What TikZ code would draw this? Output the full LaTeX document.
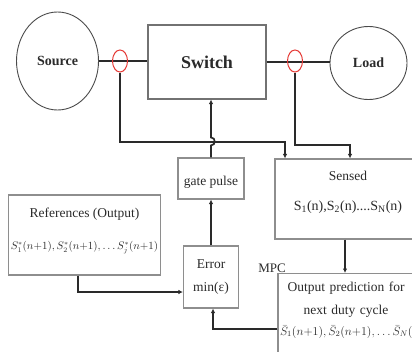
\documentclass[tikz,border=0pt]{standalone}
\usepackage{fontspec}
\setmainfont{Liberation Serif}
\usetikzlibrary{arrows.meta,shapes.geometric,calc}
\definecolor{wire}{HTML}{2A2A2A}
\definecolor{frame}{HTML}{8E8E8E}
\definecolor{probe}{HTML}{E53935}
\tikzset{
  block/.style={draw=frame,line width=1.1pt,rectangle,align=center,inner sep=2pt,
    text=wire,font=\fontsize{13.5}{16}\selectfont},
  machine/.style={draw=wire!85,line width=0.9pt,ellipse,inner sep=0pt,
    text=wire,font=\fontsize{14}{16}\selectfont\bfseries},
  probering/.style={draw=probe,line width=1pt,ellipse,minimum width=15pt,
    minimum height=22pt,inner sep=0pt},
  link/.style={draw=wire,line width=1.7pt},
  arrow/.style={link,-{Latex[length=4.5pt,width=4.5pt]}}
}
\begin{document}
\begin{tikzpicture}[x=1pt,y=-1pt]
  \useasboundingbox (0,0) rectangle (412,351);
  % power stage
  \node[machine,minimum width=82pt,minimum height=98pt] (src) at (57.5,61) {Source};
  \node[block,draw=frame!80!black,minimum width=118pt,minimum height=74pt,
    font=\fontsize{18}{20}\selectfont\bfseries] (sw) at (207,62) {Switch};
  \node[machine,minimum width=77pt,minimum height=73pt] (load) at (368.5,63) {Load};
  \draw[link] (src.east) -- (src.east -| sw.west);
  \draw[link] (sw.east) -- (sw.east -| load.west);
  \node[probering] (pL) at (120,61) {};
  \node[probering] (pR) at (295,61) {};

  % control blocks
  \node[block,minimum width=66pt,minimum height=41pt] (gate) at (211,178.5)
    {\rule{0pt}{16pt}gate pulse};
  \node[block,minimum width=146pt,minimum height=80pt] (sensed) at (348,199)
    {Sensed\\[14pt]\fontsize{14}{16}\selectfont
     S\textsubscript{1}(n),S\textsubscript{2}(n)....S\textsubscript{N}(n)\rule[-16pt]{0pt}{16pt}};
  \node[block,minimum width=143pt,minimum height=80pt] (refs) at (84.5,235)
    {References (Output)\\[16pt]\fontsize{10.5}{13}\selectfont
     $S^{*}_{1}(n{+}1),S^{*}_{2}(n{+}1),\ldots S^{*}_{j}(n{+}1)$\rule[-12pt]{0pt}{12pt}};
  \node[block,minimum width=55pt,minimum height=62pt] (err) at (211,277)
    {Error\\[7pt]min(ε)};
  \node[block,text width=132pt,inner ysep=8pt,anchor=north] (mpc) at (346,273)
    {Output prediction for\\[7pt]next duty cycle\\[5pt]\fontsize{12}{14}\selectfont
     $\bar{S}_{1}(n{+}1),\bar{S}_{2}(n{+}1),\ldots\bar{S}_{N}(n{+}1)$\rule[-20pt]{0pt}{20pt}};
  \node[anchor=south east,inner sep=0.5pt,text=wire,font=\fontsize{13}{15}\selectfont]
    (mpclbl) at ([xshift=9pt]mpc.north west) {MPC};

  % measurement feedback
  \coordinate (tapL) at (285,142);
  \coordinate (tapR) at (350,145);
  \coordinate (drop) at ([xshift=-3pt]sensed.south);
  \draw[arrow] (pL.south) |- (tapL) -- (tapL |- sensed.north);
  \draw[arrow] (pR.south) |- (tapR) -- (tapR |- sensed.north);
  \draw[arrow] (drop) -- (drop |- mpc.north);

  % gate drive, hopping over the sensing wire
  \draw[arrow] (gate.north) -- ++(0,-12) to[out=0,in=0,looseness=1.6] ++(0,-8)
    -- (sw.south -| gate.north);
  \draw[arrow] (err.north) -- (gate.south);
  \draw[arrow] ([xshift=-6.5pt]refs.south) |- ([yshift=-15pt]err.west);
  \draw[arrow] ([yshift=-56pt]mpc.north west) -| ([xshift=2pt]err.south);
\end{tikzpicture}
\end{document}
